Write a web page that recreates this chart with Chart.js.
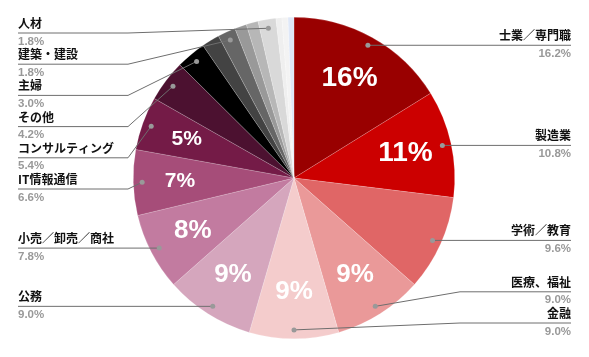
<!DOCTYPE html>
<html>
<head>
<meta charset="utf-8">
<script src="https://cdn.jsdelivr.net/npm/chart.js@4.4.1/dist/chart.umd.min.js"></script>
<style>
  html, body { margin: 0; padding: 0; background: #fff; }
</style>
</head>
<body>
<canvas id="chart" width="589" height="357"></canvas>
<script>
// slices, clockwise from 12 o'clock; unnamed slices carry no label in the original
const categories = ['士業／専門職', '製造業', '学術／教育', '医療、福祉', '金融', '公務',
  '小売／卸売／商社', 'IT情報通信', 'コンサルティング', 'その他', '主婦',
  '', '建築・建設', '', '', '人材', '', '', ''];
const counts = [27, 18, 16, 15, 15, 15, 13, 11, 9, 7, 5, 3, 3, 2, 2, 3, 1, 1, 1];
const sliceColors = ['#990000', '#cc0000', '#e06666', '#ea9999', '#f4cccc', '#d5a6bd',
  '#c27ba0', '#a64d79', '#741b47', '#4c1130', '#000000',
  '#434343', '#666666', '#999999', '#b7b7b7', '#d9d9d9', '#efefef', '#f3f3f3', '#dfe8f8'];
// the original shows no percentage inside this slice
const hiddenSliceText = ['学術／教育'];

const total = counts.reduce((a, b) => a + b, 0);

function arcInfo(arc) {
  const p = arc.getProps(['x', 'y', 'startAngle', 'endAngle', 'outerRadius'], true);
  p.mid = (p.startAngle + p.endAngle) / 2;
  return p;
}

// push label rows apart so they don't overlap
function placeRows(items, gap, top, bottom) {
  items.sort((a, b) => a.py - b.py);
  let prev = -Infinity;
  items.forEach(it => {
    it.ly = Math.max(it.py, prev + gap, top);
    prev = it.ly;
  });
  let next = Infinity;
  for (let k = items.length - 1; k >= 0; k--) {
    items[k].ly = Math.min(items[k].ly, next - gap, bottom);
    next = items[k].ly;
  }
}

const sliceLabels = {
  id: 'sliceLabels',
  afterDatasetsDraw(chart) {
    const ctx = chart.ctx;
    const meta = chart.getDatasetMeta(0);
    ctx.save();

    // percentages inside the slices
    ctx.fillStyle = '#ffffff';
    ctx.textAlign = 'center';
    ctx.textBaseline = 'middle';
    meta.data.forEach((arc, i) => {
      const pct = counts[i] / total * 100;
      if (pct < 5 || hiddenSliceText.includes(categories[i])) return;
      const a = arcInfo(arc);
      const r = a.outerRadius * 0.71;
      const size = pct >= 10 ? 28 : (pct >= 7.5 ? 26 : 21);
      ctx.font = 'bold ' + size + 'px "Liberation Sans", Arial, sans-serif';
      ctx.fillText(Math.round(pct) + '%', a.x + Math.cos(a.mid) * r, a.y + Math.sin(a.mid) * r);
    });

    // callout labels
    const left = [], right = [];
    meta.data.forEach((arc, i) => {
      if (!categories[i]) return;
      const a = arcInfo(arc);
      const r = a.outerRadius * 0.945;
      const item = { i, px: a.x + Math.cos(a.mid) * r, py: a.y + Math.sin(a.mid) * r };
      (item.px >= a.x - 1 ? right : left).push(item);
    });
    placeRows(left, 31.2, 33, 323);
    placeRows(right, 31.2, 33, 323);

    const drawSide = (items, isLeft) => {
      const edge = isLeft ? 18 : 571;
      const bend = isLeft ? 128 : 460;
      items.forEach(it => {
        ctx.strokeStyle = '#6e6e6e';
        ctx.lineWidth = 1;
        ctx.beginPath();
        ctx.moveTo(edge, it.ly);
        ctx.lineTo(bend, it.ly);
        ctx.lineTo(it.px, it.py);
        ctx.stroke();

        ctx.fillStyle = '#999999';
        ctx.beginPath();
        ctx.arc(it.px, it.py, 2.5, 0, Math.PI * 2);
        ctx.fill();

        ctx.textAlign = isLeft ? 'left' : 'right';
        ctx.textBaseline = 'middle';
        ctx.fillStyle = '#111111';
        ctx.font = 'bold 12px "Noto Sans CJK JP", sans-serif';
        ctx.fillText(categories[it.i], edge, it.ly - 9.5);
        ctx.fillStyle = '#999999';
        ctx.font = 'bold 11.5px "Liberation Sans", Arial, sans-serif';
        ctx.fillText((counts[it.i] / total * 100).toFixed(1) + '%', edge, it.ly + 8.5);
      });
    };
    drawSide(left, true);
    drawSide(right, false);
    ctx.restore();
  }
};

new Chart(document.getElementById('chart').getContext('2d'), {
  type: 'pie',
  data: {
    labels: categories,
    datasets: [{
      data: counts,
      backgroundColor: sliceColors,
      borderColor: 'rgba(255,255,255,0.35)',
      borderWidth: 0.5
    }]
  },
  options: {
    responsive: false,
    animation: false,
    layout: { padding: { left: 133, right: 134, top: 17, bottom: 18 } },
    plugins: {
      legend: { display: false },
      tooltip: { enabled: false }
    }
  },
  plugins: [sliceLabels]
});
</script>
</body>
</html>
